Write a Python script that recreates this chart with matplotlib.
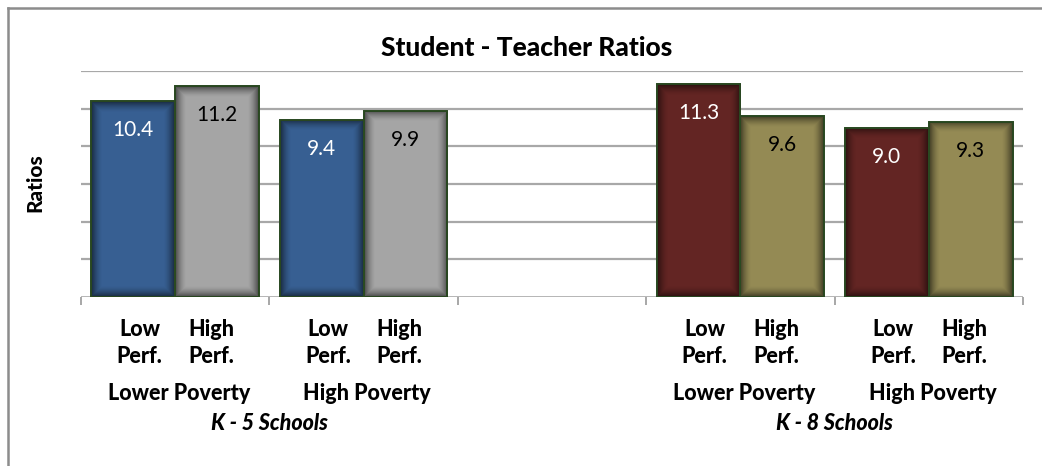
import numpy as np
import matplotlib
matplotlib.use("Agg")
import matplotlib.pyplot as plt
from matplotlib.transforms import blended_transform_factory
from matplotlib.patches import Rectangle

# ---------------- data ----------------
groups = ["Lower Poverty", "High Poverty", "", "Lower Poverty", "High Poverty"]
school_types = ["K - 5 Schools", "K - 8 Schools"]
series_labels = ["Low\nPerf.", "High\nPerf."]
low_perf = [10.4, 9.4, np.nan, 11.3, 9.0]
high_perf = [11.2, 9.9, np.nan, 9.6, 9.3]
low_colors = ["#375F92", "#375F92", None, "#632523", "#632523"]
high_colors = ["#A5A5A5", "#A5A5A5", None, "#948A54", "#948A54"]
label_colors_low = "white"
label_colors_high = "black"
y_max = 12
y_step = 2

plt.rcParams['font.family'] = ['Lato', 'DejaVu Sans']

W, H = 1042, 466
fig = plt.figure(figsize=(W / 100, H / 100), dpi=100)
ax = fig.add_axes([81 / W, (H - 297) / H, (1023 - 81) / W, (297 - 71) / H])

x = np.arange(len(groups))
bw = 0.445
off = 0.2225
label_off = 0.19

ax.set_xlim(-0.5, len(groups) - 0.5)
ax.set_ylim(0, y_max)

# gridlines
for gy in np.arange(y_step, y_max + 0.01, y_step):
    ax.axhline(gy, color="#A8A8A8", lw=1.6, zorder=0)
ax.axhline(0, color="#A0A0A0", lw=1.8, zorder=1)

def shade(bar):
    x0, y0 = bar.get_x(), bar.get_y()
    w, h = bar.get_width(), bar.get_height()
    p0 = ax.transData.transform((x0, y0))
    p1 = ax.transData.transform((x0 + w, y0 + h))
    wp = max(int(abs(p1[0] - p0[0])), 2)
    hp = max(int(abs(p1[1] - p0[1])), 2)
    xx = np.arange(wp)[None, :]
    yy = np.arange(hp)[:, None]
    d = np.minimum(np.minimum(xx, wp - 1 - xx), np.minimum(yy, hp - 1 - yy)).astype(float)
    a = 0.55 * np.clip(1 - d / 11.0, 0, 1) ** 1.6
    img = np.zeros((hp, wp, 4))
    img[..., 3] = a
    im = ax.imshow(img, extent=(x0, x0 + w, y0, y0 + h), origin="upper",
                   aspect="auto", zorder=2.5, interpolation="bilinear")
    im.set_clip_path(bar)

ax.set_autoscale_on(False)

bars_all = []
for vals, cols, dx, lc in [(low_perf, low_colors, -off, label_colors_low),
                           (high_perf, high_colors, off, label_colors_high)]:
    for xi, v, c in zip(x, vals, cols):
        if np.isnan(v):
            continue
        b = ax.bar(xi + dx, v, width=bw, color=c, edgecolor="#2B4A22",
                   linewidth=1.3, zorder=2)[0]
        bars_all.append(b)
        ax.annotate(f"{v:.1f}", (xi + dx, v), xytext=(0, -29),
                    textcoords="offset pixels", ha="center", va="center",
                    color=lc, fontsize=15, zorder=4)

fig.canvas.draw()
for b in bars_all:
    shade(b)
for b in bars_all:
    ax.add_patch(Rectangle((b.get_x(), b.get_y()), b.get_width(), b.get_height(),
                           fill=False, edgecolor="#2B4A22", lw=1.3, zorder=3))

for s in ax.spines.values():
    s.set_visible(False)
ax.set_yticks([])
ax.set_xticks(np.arange(-0.5, len(groups), 1.0))
ax.set_xticklabels([])
ax.tick_params(axis="x", length=6, width=1.3, color="#A0A0A0", direction="out")

BW = 900
trans = blended_transform_factory(ax.transData, ax.transAxes)
for xi, g in zip(x, groups):
    if g == "":
        continue
    for dx, sl in zip((-label_off, label_off), series_labels):
        ax.annotate(sl, (xi + dx, 0), xycoords=trans, xytext=(0, -46),
                    textcoords="offset pixels", ha="center", va="center",
                    multialignment="center",
                    fontsize=15.5, fontweight=BW, linespacing=1.38)
    ax.annotate(g, (xi + 0.02, 0), xycoords=trans, xytext=(0, -97),
                textcoords="offset pixels", ha="center", va="center",
                fontsize=15.5, fontweight=BW)
for st, xb in zip(school_types, (0.5, 3.5)):
    ax.annotate(st, (xb, 0), xycoords=trans, xytext=(0, -127),
                textcoords="offset pixels", ha="center", va="center",
                fontsize=15.5, fontweight=BW, fontstyle="italic")

fig.text(527 / W, 1 - 48 / H, "Student - Teacher Ratios", ha="center", va="center",
         fontsize=19, fontweight=BW)
fig.text(35 / W, 1 - 183 / H, "Ratios", ha="center", va="center", rotation=90,
         fontsize=15, fontweight=BW)

fig.add_artist(plt.Line2D([7.5 / W, 7.5 / W], [0, 1 - 8 / H], color="#8C8C8C", lw=1.8,
                          transform=fig.transFigure))
fig.add_artist(plt.Line2D([7.5 / W, 1], [1 - 8 / H, 1 - 8 / H], color="#8C8C8C", lw=1.8,
                          transform=fig.transFigure))

fig.savefig("out.png", dpi=100)
